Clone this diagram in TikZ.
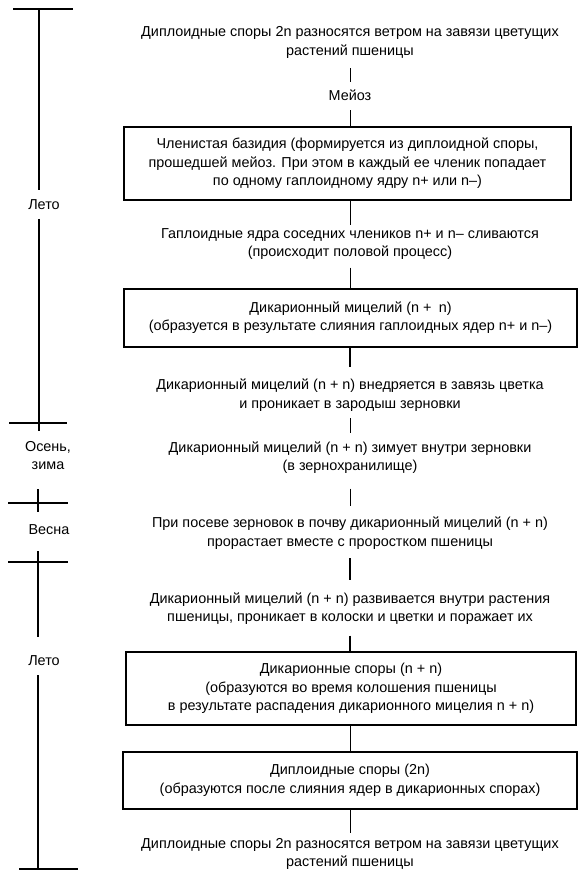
\documentclass[tikz,border=0pt]{standalone}
\usepackage{fontspec}
\setmainfont{Liberation Sans}
\begin{document}
\begin{tikzpicture}[x=1pt,y=-1pt,
  txt/.style={inner sep=0pt,align=center,font=\fontsize{14.4}{18.5}\selectfont},
  stagebox/.style={txt,draw,line width=1.7pt},
  thinline/.style={line width=0.8pt},
  thickline/.style={line width=2pt},
  timeline/.style={line width=1.8pt},
  season/.style={inner sep=0pt,align=center,font=\fontsize{14.4}{18.5}\selectfont}]
\useasboundingbox (0,0) rectangle (588,882);
% flow
\node[txt] (t1) at (350,42.5) {\strut Диплоидные споры 2n разносятся ветром на завязи цветущих\\\strut растений пшеницы};
\node[txt] (me) at (350,97) {\strut Мейоз};
\node[stagebox,minimum width=447pt,minimum height=73pt] (b1) at (347.5,163.5) {\strut Членистая базидия (формируется из диплоидной споры,\\\strut прошедшей мейоз. При этом в каждый ее членик попадает\\\strut по одному гаплоидному ядру n+ или n–)};
\node[txt] (t2) at (350,244) {\strut Гаплоидные ядра соседних члеников n+ и n– сливаются\\\strut (происходит половой процесс)};
\node[stagebox,minimum width=453pt,minimum height=58pt] (b2) at (350.5,318) {\strut Дикарионный мицелий (n +\enspace n)\\\strut (образуется в результате слияния гаплоидных ядер n+ и n–)};
\node[txt] (t3) at (350,395.5) {\strut Дикарионный мицелий (n + n) внедряется в завязь цветка\\\strut и проникает в зародыш зерновки};
\node[txt] (t4) at (350,458) {\strut Дикарионный мицелий (n + n) зимует внутри зерновки\\\strut (в зернохранилище)};
\node[txt] (t5) at (350,533.5) {\strut При посеве зерновок в почву дикарионный мицелий (n + n)\\\strut прорастает вместе с проростком пшеницы};
\node[txt] (t6) at (350,609) {\strut Дикарионный мицелий (n + n) развивается внутри растения\\\strut пшеницы, проникает в колоски и цветки и поражает их};
\node[stagebox,minimum width=450pt,minimum height=73pt] (b3) at (351,688.5) {\strut Дикарионные споры (n + n)\\\strut (образуются во время колошения пшеницы\\\strut в результате распадения дикарионного мицелия n + n)};
\node[stagebox,minimum width=454pt,minimum height=57pt] (b4) at (350,780.5) {\strut Диплоидные споры (2n)\\\strut (образуются после слияния ядер в дикарионных спорах)};
\node[txt] (t7) at (350,854) {\strut Диплоидные споры 2n разносятся ветром на завязи цветущих\\\strut растений пшеницы};
% connectors
\draw[thinline,shorten <=7pt,shorten >=5.5pt] (t1) -- (me);
\draw[thinline,shorten <=4pt] (me.south) -- (me.south |- b1.north);
\draw[thinline] (t2.north |- b1.south) -- (t2.north);
\draw[thinline,shorten <=5pt] (t2.south) -- (t2.south |- b2.north);
\draw[thickline,shorten >=9.5pt] (t3.north |- b2.south) -- (t3.north);
\draw[thinline,shorten <=4pt,shorten >=6.5pt] (t3) -- (t4);
\draw[thinline,shorten <=12pt,shorten >=8.5pt] (t4) -- (t5);
\draw[thickline,shorten <=6pt,shorten >=10.5pt] (t5) -- (t6);
\draw[thickline,shorten <=8pt] (t6.south) -- (t6.south |- b3.north);
\draw[thinline] (b4.north |- b3.south) -- (b4.north);
\draw[thinline,shorten >=2.5pt] (b4) -- (t7);
% seasons
\node[season] (s1) at (44,206) {\strut Лето};
\node[season] (s2) at (48,457) {\strut Осень,\\\strut зима};
\node[season] (s3) at (49,531) {\strut Весна};
\node[season] (s4) at (44,662) {\strut Лето};
\draw[timeline] (13,9) -- (73,9);
\draw[timeline] (39,9) -- (39,190);
\draw[timeline] (39,219) -- (39,431);
\draw[timeline] (9,423) -- (67,423);
\draw[timeline] (8,503) -- (68,503);
\draw[timeline] (38,489) -- (38,512);
\draw[timeline] (8,562) -- (68,562);
\draw[timeline] (38,551) -- (38,637);
\draw[timeline] (38,675) -- (38,869);
\draw[timeline] (19,869) -- (78,869);
\end{tikzpicture}
\end{document}
